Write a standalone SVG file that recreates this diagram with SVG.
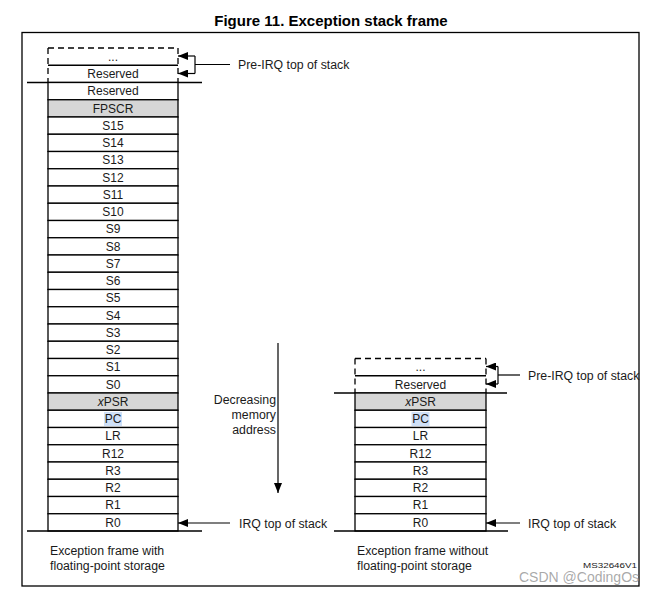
<svg xmlns="http://www.w3.org/2000/svg" width="658" height="594" viewBox="0 0 658 594">
<style>
  text{font-family:"Liberation Sans",Arial,sans-serif;fill:#1a1a1a}
  .t{font-size:12px;text-anchor:middle}
  .lbl{font-size:12.3px}
  .title{font-size:15px;font-weight:bold;text-anchor:middle;fill:#000}
  .row{fill:#fff;stroke:#000;stroke-width:1.3}
  .gray{fill:#d6d6d6;stroke:#000;stroke-width:1.3}
  .ln{stroke:#000;stroke-width:1.3;fill:none}
  .dash{stroke:#000;stroke-width:1.3;fill:none;stroke-dasharray:6,4}
  .conn{stroke:#000;stroke-width:1.2;fill:none}
  .hl{fill:#cfe0f7}
</style>
<defs>
  <marker id="ah" markerUnits="userSpaceOnUse" markerWidth="10" markerHeight="8" refX="10" refY="4" orient="auto">
    <path d="M0,0 L10,4 L0,8 z" fill="#000"/>
  </marker>
</defs>
<rect width="658" height="594" fill="#fff"/>
<rect x="22" y="32.5" width="617" height="553.5" class="ln"/>
<text class="title" x="331" y="26">Figure 11. Exception stack frame</text>

<g id="stack-fp">
  <line x1="48" y1="48" x2="178" y2="48" class="dash"/>
  <line x1="48" y1="48" x2="48" y2="82.5" class="dash"/>
  <line x1="178" y1="48" x2="178" y2="82.5" class="dash"/>
  <line x1="48" y1="65.25" x2="178" y2="65.25" class="ln"/>
  <text class="t" x="113" y="60.5">...</text>
  <text class="t" x="113" y="78.2">Reserved</text>
  <line x1="27" y1="82.5" x2="202" y2="82.5" class="ln"/>
  <rect class="row" x="48" y="82.5" width="130" height="17.25"/><text class="t" x="113" y="95.4">Reserved</text>
  <rect class="gray" x="48" y="99.75" width="130" height="17.25"/><text class="t" x="113" y="112.6">FPSCR</text>
  <rect class="row" x="48" y="117" width="130" height="17.25"/><text class="t" x="113" y="129.9">S15</text>
  <rect class="row" x="48" y="134.25" width="130" height="17.25"/><text class="t" x="113" y="147.1">S14</text>
  <rect class="row" x="48" y="151.5" width="130" height="17.25"/><text class="t" x="113" y="164.4">S13</text>
  <rect class="row" x="48" y="168.75" width="130" height="17.25"/><text class="t" x="113" y="181.6">S12</text>
  <rect class="row" x="48" y="186" width="130" height="17.25"/><text class="t" x="113" y="198.9">S11</text>
  <rect class="row" x="48" y="203.25" width="130" height="17.25"/><text class="t" x="113" y="216.1">S10</text>
  <rect class="row" x="48" y="220.5" width="130" height="17.25"/><text class="t" x="113" y="233.4">S9</text>
  <rect class="row" x="48" y="237.75" width="130" height="17.25"/><text class="t" x="113" y="250.6">S8</text>
  <rect class="row" x="48" y="255" width="130" height="17.25"/><text class="t" x="113" y="267.9">S7</text>
  <rect class="row" x="48" y="272.25" width="130" height="17.25"/><text class="t" x="113" y="285.1">S6</text>
  <rect class="row" x="48" y="289.5" width="130" height="17.25"/><text class="t" x="113" y="302.4">S5</text>
  <rect class="row" x="48" y="306.75" width="130" height="17.25"/><text class="t" x="113" y="319.6">S4</text>
  <rect class="row" x="48" y="324" width="130" height="17.25"/><text class="t" x="113" y="336.9">S3</text>
  <rect class="row" x="48" y="341.25" width="130" height="17.25"/><text class="t" x="113" y="354.1">S2</text>
  <rect class="row" x="48" y="358.5" width="130" height="17.25"/><text class="t" x="113" y="371.4">S1</text>
  <rect class="row" x="48" y="375.75" width="130" height="17.25"/><text class="t" x="113" y="388.6">S0</text>
  <rect class="gray" x="48" y="393" width="130" height="17.25"/><text class="t" x="113" y="405.9"><tspan font-style="italic">x</tspan>PSR</text>
  <rect class="row" x="48" y="410.25" width="130" height="17.25"/><rect class="hl" x="104" y="412" width="18" height="14"/><text class="t" x="113" y="423.1">PC</text>
  <rect class="row" x="48" y="427.5" width="130" height="17.25"/><text class="t" x="113" y="440.4">LR</text>
  <rect class="row" x="48" y="444.75" width="130" height="17.25"/><text class="t" x="113" y="457.6">R12</text>
  <rect class="row" x="48" y="462" width="130" height="17.25"/><text class="t" x="113" y="474.9">R3</text>
  <rect class="row" x="48" y="479.25" width="130" height="17.25"/><text class="t" x="113" y="492.1">R2</text>
  <rect class="row" x="48" y="496.5" width="130" height="17.25"/><text class="t" x="113" y="509.4">R1</text>
  <rect class="row" x="48" y="513.75" width="130" height="17.25"/><text class="t" x="113" y="526.6">R0</text>
  <line x1="27" y1="531" x2="202" y2="531" class="ln"/>
</g>

<g id="stack-nofp">
  <line x1="355" y1="358.5" x2="486" y2="358.5" class="dash"/>
  <line x1="355" y1="358.5" x2="355" y2="393" class="dash"/>
  <line x1="486" y1="358.5" x2="486" y2="393" class="dash"/>
  <line x1="355" y1="375.75" x2="486" y2="375.75" class="ln"/>
  <text class="t" x="420.5" y="371">...</text>
  <text class="t" x="420.5" y="388.6">Reserved</text>
  <line x1="334" y1="393" x2="507" y2="393" class="ln"/>
  <rect class="gray" x="355" y="393" width="131" height="17.25"/><text class="t" x="420.5" y="405.9"><tspan font-style="italic">x</tspan>PSR</text>
  <rect class="row" x="355" y="410.25" width="131" height="17.25"/><rect class="hl" x="411.5" y="412" width="18" height="14"/><text class="t" x="420.5" y="423.1">PC</text>
  <rect class="row" x="355" y="427.5" width="131" height="17.25"/><text class="t" x="420.5" y="440.4">LR</text>
  <rect class="row" x="355" y="444.75" width="131" height="17.25"/><text class="t" x="420.5" y="457.6">R12</text>
  <rect class="row" x="355" y="462" width="131" height="17.25"/><text class="t" x="420.5" y="474.9">R3</text>
  <rect class="row" x="355" y="479.25" width="131" height="17.25"/><text class="t" x="420.5" y="492.1">R2</text>
  <rect class="row" x="355" y="496.5" width="131" height="17.25"/><text class="t" x="420.5" y="509.4">R1</text>
  <rect class="row" x="355" y="513.75" width="131" height="17.25"/><text class="t" x="420.5" y="526.6">R0</text>
  <line x1="334" y1="531" x2="508" y2="531" class="ln"/>
</g>

<g id="connectors">
  <line x1="195" y1="56" x2="178" y2="56" class="conn" marker-end="url(#ah)"/>
  <line x1="195" y1="73.5" x2="178" y2="73.5" class="conn" marker-end="url(#ah)"/>
  <line x1="195" y1="56" x2="195" y2="73.5" class="conn"/>
  <line x1="195" y1="64.5" x2="230" y2="64.5" class="conn"/>
  <line x1="230" y1="523" x2="178" y2="523" class="conn" marker-end="url(#ah)"/>
  <line x1="278" y1="343" x2="278" y2="493" class="conn" marker-end="url(#ah)"/>
  <line x1="498" y1="366.5" x2="486" y2="366.5" class="conn" marker-end="url(#ah)"/>
  <line x1="498" y1="384" x2="486" y2="384" class="conn" marker-end="url(#ah)"/>
  <line x1="498" y1="366.5" x2="498" y2="384" class="conn"/>
  <line x1="498" y1="375" x2="520" y2="375" class="conn"/>
  <line x1="520" y1="523" x2="486" y2="523" class="conn" marker-end="url(#ah)"/>
</g>

<g id="labels">
  <text class="lbl" x="238" y="69">Pre-IRQ top of stack</text>
  <text class="lbl" x="239" y="527.5">IRQ top of stack</text>
  <text class="lbl" x="528" y="379.5">Pre-IRQ top of stack</text>
  <text class="lbl" x="528" y="527.5">IRQ top of stack</text>
  <text class="lbl" x="276" y="404" text-anchor="end">Decreasing</text>
  <text class="lbl" x="276" y="419" text-anchor="end">memory</text>
  <text class="lbl" x="276" y="434" text-anchor="end">address</text>
  <text class="lbl" x="50" y="555">Exception frame with</text>
  <text class="lbl" x="50" y="570">floating-point storage</text>
  <text class="lbl" x="357" y="555">Exception frame without</text>
  <text class="lbl" x="357" y="570">floating-point storage</text>
  <text x="583" y="568" font-size="7.5" textLength="54" lengthAdjust="spacingAndGlyphs">MS32646V1</text>
  <text x="519" y="582" font-size="14" style="fill:#9a9a9a;fill-opacity:0.85">CSDN @CodingOs</text>
</g>
</svg>
